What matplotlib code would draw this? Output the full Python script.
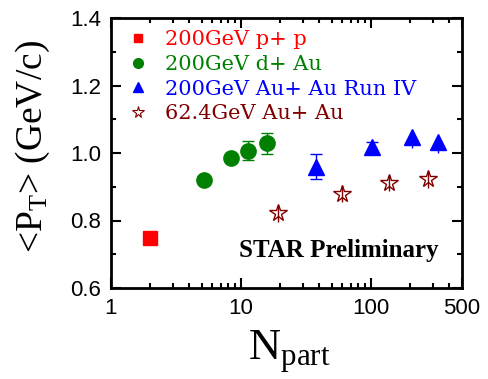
import matplotlib
matplotlib.use("Agg")
import matplotlib.pyplot as plt
from matplotlib.ticker import FixedLocator, NullFormatter, MultipleLocator
from matplotlib.lines import Line2D

plt.rcParams['mathtext.fontset'] = 'custom'
plt.rcParams['mathtext.rm'] = 'Liberation Serif'
plt.rcParams['mathtext.it'] = 'Liberation Serif:italic'

# ---- data ----
pp_npart = [2.0]
pp_pt = [0.748]

dau_npart = [5.2, 8.4, 11.3, 15.8]
dau_pt = [0.920, 0.985, 1.007, 1.029]
dau_err = [0.008, 0.008, 0.028, 0.031]

auau200_npart_a = [37.8, 101]
auau200_pt_a = [0.960, 1.017]
auau200_err_a = [0.037, 0.015]
auau200_npart_b = [206, 326]
auau200_pt_b = [1.047, 1.032]
auau200_errlo_b = [0.032, 0.032]
auau200_errhi_b = [0.0, 0.0]

auau62_npart = [19.4, 60.1, 137.5, 273]
auau62_pt = [0.821, 0.880, 0.911, 0.922]
auau62_err = [0.025, 0.025, 0.025, 0.025]

xticks = [1, 10, 100, 500]
xticklabels = ['1', '10', '100', '500']
yticks = [0.6, 0.8, 1.0, 1.2, 1.4]
yticklabels = ['0.6', '0.8', '1.0', '1.2', '1.4']

labels = ['200GeV p+ p', '200GeV d+ Au', '200GeV Au+ Au Run IV', '62.4GeV Au+ Au']
colors = ['#ff0000', '#008000', '#0000ff', '#800000']

fig = plt.figure(figsize=(4.88, 3.79), dpi=100)
ax = fig.add_axes([111/488, 1-288/379, 351/488, 270/379])

ax.plot(pp_npart, pp_pt, 's', color=colors[0], ms=10, mec=colors[0])
ax.errorbar(dau_npart, dau_pt, yerr=dau_err, fmt='o', color=colors[1],
            ms=11, capsize=4.5, elinewidth=1, capthick=1)
ax.errorbar(auau200_npart_a, auau200_pt_a, yerr=auau200_err_a, fmt='^',
            color=colors[2], ms=11.5, capsize=4.5, elinewidth=1, capthick=1)
ax.errorbar(auau200_npart_b, auau200_pt_b,
            yerr=[auau200_errlo_b, auau200_errhi_b], fmt='^',
            color=colors[2], ms=11.5, capsize=0, elinewidth=1)
ax.errorbar(auau62_npart, auau62_pt, yerr=auau62_err, fmt='*',
            color=colors[3], mfc='none', mec=colors[3], mew=1.0, ms=13,
            capsize=0, elinewidth=1)

ax.set_xscale('log')
ax.set_xlim(1, 500)
ax.set_ylim(0.6, 1.4)
ax.xaxis.set_major_locator(FixedLocator(xticks))
ax.set_xticklabels(xticklabels)
minor = [m * d for d in (1, 10, 100) for m in range(2, 10) if m * d < 500 and m * d not in xticks]
ax.xaxis.set_minor_locator(FixedLocator(minor))
ax.xaxis.set_minor_formatter(NullFormatter())
ax.set_yticks(yticks)
ax.set_yticklabels(yticklabels)
ax.yaxis.set_minor_locator(MultipleLocator(0.1))

for sp in ax.spines.values():
    sp.set_linewidth(2)
ax.tick_params(which='both', direction='in', top=True, right=True, width=1.5)
ax.tick_params(which='major', length=7, labelsize=16, pad=7)
ax.tick_params(which='minor', length=3.5)
for lab in ax.get_xticklabels() + ax.get_yticklabels():
    lab.set_fontfamily('Liberation Sans')

handles = [
    Line2D([], [], ls='none', marker='s', color=colors[0], ms=6),
    Line2D([], [], ls='none', marker='o', color=colors[1], ms=7),
    Line2D([], [], ls='none', marker='^', color=colors[2], ms=7.5),
    Line2D([], [], ls='none', marker='*', color=colors[3], mfc='none', mew=0.8, ms=8.5),
]
leg = ax.legend(handles, labels, loc='upper left',
                bbox_to_anchor=(0.012, 1.0), frameon=False,
                prop={'family': 'DejaVu Serif', 'size': 15}, handlelength=1.0,
                handletextpad=0.8, labelspacing=0.27, borderaxespad=0.3,
                borderpad=0.3)
for t, c in zip(leg.get_texts(), colors):
    t.set_color(c)

ax.text(0.649, 0.139, 'STAR Preliminary', transform=ax.transAxes, ha='center',
        va='center', fontsize=18, fontweight='bold', family='Liberation Serif')

fig.text(33/488, 1-146.5/379, r'<$\mathrm{P}_{\mathrm{T}}$> (GeV/c)', rotation=90,
         ha='center', va='center', fontsize=27, family='Liberation Serif')
fig.text(289.5/488, 1-352/379, r'$\mathrm{N}_{\mathrm{part}}$', ha='center', va='center',
         fontsize=32, family='Liberation Serif')

fig.savefig('out.png', dpi=100)
